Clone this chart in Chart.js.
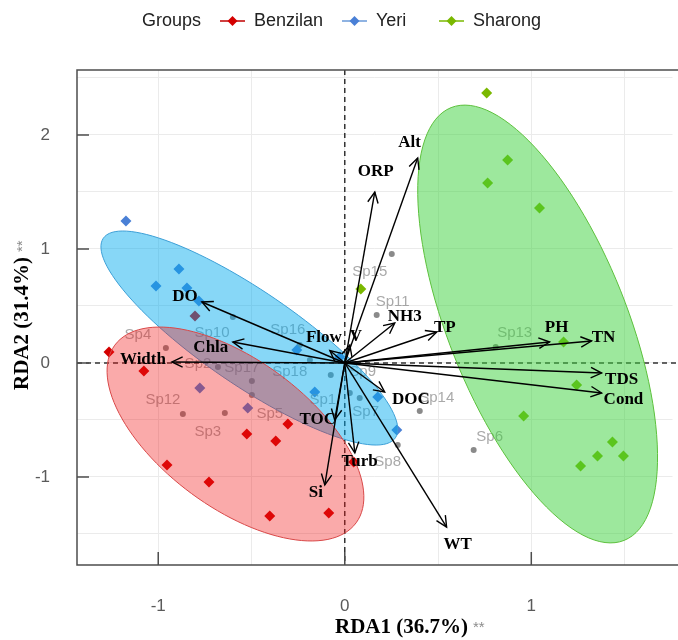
<!DOCTYPE html>
<html><head><meta charset="utf-8">
<script src="https://cdn.jsdelivr.net/npm/chart.js@4/dist/chart.umd.min.js"></script>
<style>html,body{margin:0;padding:0;background:#fff}</style>
</head><body>
<canvas id="c" width="678" height="640"></canvas>
<script>
// ---- data ----
const groupNames = ['Benzilan', 'Yeri', 'Sharong'];
const benzilanX = [-1.264, -1.077, -0.953, -0.728, -0.525, -0.370, -0.402, -0.086, -0.305, 0.048, -0.803];
const benzilanY = [0.096, -0.070, -0.895, -1.044, -0.623, -0.684, -1.342, -1.316, -0.535, -0.868, 0.412];
const yeriX = [-1.173, -1.012, -0.889, -0.846, -0.782, -0.257, -0.161, 0.177, 0.279, -0.777, -0.520, -0.027];
const yeriY = [1.246, 0.675, 0.825, 0.658, 0.544, 0.114, -0.254, -0.298, -0.588, -0.219, -0.395, 0.053];
const sharongX = [0.761, 0.873, 0.766, 1.044, 0.086, 1.173, 1.243, 0.959, 1.435, 1.355, 1.494, 1.264];
const sharongY = [2.368, 1.781, 1.579, 1.360, 0.649, 0.184, -0.193, -0.465, -0.693, -0.816, -0.816, -0.904];

const envNames = ['Alt', 'ORP', 'NH3', 'TP', 'PH', 'TN', 'TDS', 'Cond', 'DOC', 'WT', 'Turb', 'Si', 'TOC', 'Width', 'Chla', 'DO', 'Flow', 'V'];
const envX = [0.391, 0.161, 0.268, 0.493, 1.098, 1.323, 1.377, 1.377, 0.214, 0.546, 0.054, -0.107, -0.054, -0.927, -0.600, -0.766, -0.080, 0.027];
const envY = [1.798, 1.500, 0.351, 0.272, 0.184, 0.193, -0.088, -0.263, -0.254, -1.439, -0.789, -1.070, -0.500, 0.009, 0.184, 0.535, 0.110, 0.158];
const envLabelX = [0.348, 0.166, 0.321, 0.536, 1.136, 1.387, 1.484, 1.494, 0.354, 0.605, 0.080, -0.155, -0.145, -1.082, -0.718, -0.857, -0.112, 0.059];
const envLabelY = [1.930, 1.675, 0.404, 0.307, 0.307, 0.219, -0.149, -0.325, -0.325, -1.596, -0.868, -1.140, -0.500, 0.026, 0.132, 0.579, 0.219, 0.228];

const speciesNames = ['Sp1','Sp2','Sp3','Sp4','Sp5','Sp6','Sp7','Sp8','Sp9','Sp10','Sp11','Sp12','Sp13','Sp14','Sp15','Sp16','Sp17','Sp18'];
const speciesX = [0.027, -0.680, -0.643, -0.959, -0.498, 0.691, 0.080, 0.284, -0.075, -0.600, 0.171, -0.868, 0.809, 0.402, 0.252, -0.241, -0.498, -0.187];
const speciesY = [-0.263, -0.035, -0.439, 0.132, -0.281, -0.763, -0.307, -0.719, -0.105, 0.404, 0.421, -0.447, 0.140, -0.421, 0.956, 0.158, -0.158, 0.026];
const speciesLabelX = [-0.118, -0.787, -0.734, -1.109, -0.402, 0.777, 0.112, 0.230, 0.096, -0.712, 0.257, -0.975, 0.911, 0.493, 0.134, -0.305, -0.552, -0.295];
const speciesLabelY = [-0.325, -0.009, -0.605, 0.246, -0.447, -0.649, -0.430, -0.868, -0.079, 0.263, 0.535, -0.325, 0.263, -0.307, 0.798, 0.289, -0.044, -0.079];

// confidence ellipses: centre and two conjugate semi-axis vectors (data units)
const ellipseCenterX = [-0.586, -0.5115, 1.034];
const ellipseCenterY = [-0.623, 0.219, 0.342];
const ellipseAX = [0.647, 0.783, 0.464];
const ellipseAY = [-0.779, -0.875, -1.898];
const ellipseBX = [-0.235, -0.142, -0.445];
const ellipseBY = [-0.523, -0.340, -0.291];

const xTicks = [-1, 0, 1];
const yTicks = [-1, 0, 1, 2];
const xGrid = [-1, -0.5, 0, 0.5, 1, 1.5];
const yGrid = [-1.5, -1, -0.5, 0, 0.5, 1, 1.5, 2, 2.5];

// ---- styles ----
const pointColors = ['#d40000', '#4a80d6', '#7ab800'];
const legendLineColors = ['#c00000', '#6a9ad8', '#7ab800'];
const fillColors = ['rgba(240,20,20,0.36)', 'rgba(0,170,238,0.47)', 'rgba(60,210,60,0.5)'];
const strokeColors = ['#d84848', '#3c9fd6', '#5cc03c'];

const zip = (xs, ys) => xs.map((x, i) => ({x: x, y: ys[i]}));

const rdaPlugin = {
  id: 'rda',
  afterDatasetsDraw(chart) {
    const ctx = chart.ctx, xs = chart.scales.x, ys = chart.scales.y, ca = chart.chartArea;
    const px = v => xs.getPixelForValue(v), py = v => ys.getPixelForValue(v);
    const R = chart.width;
    ctx.save();
    ctx.beginPath(); ctx.rect(ca.left, ca.top, R - ca.left, ca.bottom - ca.top); ctx.clip();
    // species labels
    ctx.font = '15px "Liberation Sans"';
    ctx.fillStyle = 'rgba(140,140,140,0.75)';
    ctx.textAlign = 'center'; ctx.textBaseline = 'middle';
    speciesNames.forEach((n, i) => ctx.fillText(n, px(speciesLabelX[i]), py(speciesLabelY[i])));
    // zero lines
    ctx.strokeStyle = '#333'; ctx.lineWidth = 1.5; ctx.setLineDash([5, 4]);
    ctx.beginPath(); ctx.moveTo(px(0), ca.top); ctx.lineTo(px(0), ca.bottom); ctx.stroke();
    ctx.beginPath(); ctx.moveTo(ca.left, py(0)); ctx.lineTo(R, py(0)); ctx.stroke();
    ctx.setLineDash([]);
    // ellipses: Yeri, then Benzilan over it, then Sharong
    [1, 0, 2].forEach(g => {
      ctx.beginPath();
      for (let k = 0; k <= 120; k++) {
        const t = k / 120 * Math.PI * 2;
        const dx = ellipseCenterX[g] + ellipseAX[g] * Math.cos(t) + ellipseBX[g] * Math.sin(t);
        const dy = ellipseCenterY[g] + ellipseAY[g] * Math.cos(t) + ellipseBY[g] * Math.sin(t);
        if (k === 0) ctx.moveTo(px(dx), py(dy)); else ctx.lineTo(px(dx), py(dy));
      }
      ctx.closePath();
      ctx.fillStyle = fillColors[g]; ctx.fill();
      ctx.strokeStyle = strokeColors[g]; ctx.lineWidth = 1; ctx.stroke();
    });
    // arrows
    ctx.strokeStyle = '#000'; ctx.lineWidth = 1.4;
    const ox = px(0), oy = py(0);
    envNames.forEach((n, i) => {
      const tx = px(envX[i]), ty = py(envY[i]);
      ctx.beginPath(); ctx.moveTo(ox, oy); ctx.lineTo(tx, ty); ctx.stroke();
      const ang = Math.atan2(ty - oy, tx - ox), L = 12, h = 0.45;
      ctx.beginPath();
      ctx.moveTo(tx - L * Math.cos(ang - h), ty - L * Math.sin(ang - h));
      ctx.lineTo(tx, ty);
      ctx.lineTo(tx - L * Math.cos(ang + h), ty - L * Math.sin(ang + h));
      ctx.stroke();
    });
    ctx.font = 'bold 17px "Liberation Serif"';
    ctx.fillStyle = '#000';
    envNames.forEach((n, i) => ctx.fillText(n, px(envLabelX[i]), py(envLabelY[i])));
    ctx.restore();
    // frame (open on the right, cut by the picture edge) and inward ticks
    ctx.save();
    ctx.strokeStyle = '#4d4d4d'; ctx.lineWidth = 1.5;
    ctx.beginPath();
    ctx.moveTo(R, ca.top); ctx.lineTo(ca.left, ca.top); ctx.lineTo(ca.left, ca.bottom); ctx.lineTo(R, ca.bottom);
    ctx.stroke();
    ctx.beginPath();
    xTicks.forEach(v => { ctx.moveTo(px(v), ca.bottom); ctx.lineTo(px(v), ca.bottom - 13); });
    yTicks.forEach(v => { ctx.moveTo(ca.left, py(v)); ctx.lineTo(ca.left + 12, py(v)); });
    ctx.stroke();
    ctx.restore();
  },
  afterDraw(chart) {
    const ctx = chart.ctx;
    ctx.save();
    // legend
    ctx.textBaseline = 'middle'; ctx.textAlign = 'left';
    ctx.font = '18px "Liberation Sans"'; ctx.fillStyle = '#222';
    ctx.fillText('Groups', 142, 21);
    const itemX = [220, 342, 439];
    groupNames.forEach((n, g) => {
      const x0 = itemX[g];
      ctx.strokeStyle = legendLineColors[g]; ctx.lineWidth = 1.5;
      ctx.beginPath(); ctx.moveTo(x0, 21); ctx.lineTo(x0 + 25, 21); ctx.stroke();
      ctx.fillStyle = pointColors[g];
      ctx.beginPath(); ctx.moveTo(x0 + 12.5, 16); ctx.lineTo(x0 + 17.5, 21); ctx.lineTo(x0 + 12.5, 26); ctx.lineTo(x0 + 7.5, 21); ctx.closePath(); ctx.fill();
      ctx.fillStyle = '#222';
      ctx.fillText(n, x0 + 34, 21);
    });
    // axis titles
    ctx.font = 'bold 21px "Liberation Serif"'; ctx.fillStyle = '#000';
    const t1 = 'RDA1 (36.7%)';
    ctx.fillText(t1, 335, 628);
    const w1 = ctx.measureText(t1).width;
    ctx.font = '15px "Liberation Sans"'; ctx.fillStyle = '#8c8c8c';
    ctx.fillText('**', 335 + w1 + 5, 628);
    ctx.save();
    ctx.translate(23, 390); ctx.rotate(-Math.PI / 2);
    ctx.font = 'bold 21px "Liberation Serif"'; ctx.fillStyle = '#000';
    const t2 = 'RDA2 (31.4%)';
    ctx.fillText(t2, 0, 0);
    const w2 = ctx.measureText(t2).width;
    ctx.font = '15px "Liberation Sans"'; ctx.fillStyle = '#8c8c8c';
    ctx.fillText('**', w2 + 5, 0);
    ctx.restore();
    ctx.restore();
  }
};

const datasets = [
  {label: 'species', data: zip(speciesX, speciesY), pointRadius: 3, pointBackgroundColor: '#8a8a8a', pointBorderWidth: 0, order: 10},
  {label: groupNames[0], data: zip(benzilanX, benzilanY), pointStyle: 'rectRot', pointRadius: 5.5, pointBackgroundColor: pointColors[0], pointBorderWidth: 0, order: 1},
  {label: groupNames[1], data: zip(yeriX, yeriY), pointStyle: 'rectRot', pointRadius: 5.5, pointBackgroundColor: pointColors[1], pointBorderWidth: 0, order: 1},
  {label: groupNames[2], data: zip(sharongX, sharongY), pointStyle: 'rectRot', pointRadius: 5.5, pointBackgroundColor: pointColors[2], pointBorderWidth: 0, order: 1}
];

new Chart(document.getElementById('c'), {
  type: 'scatter',
  data: {datasets: datasets},
  options: {
    responsive: false, animation: false, devicePixelRatio: 1,
    layout: {padding: {top: 70, right: 0, left: 0, bottom: 0}},
    plugins: {legend: {display: false}, tooltip: {enabled: false}},
    scales: {
      x: {
        type: 'linear', min: -1.4355, max: 1.757,
        afterBuildTicks: s => { s.ticks = xGrid.map(v => ({value: v})); },
        afterFit: s => { s.height = 75; },
        grid: {color: '#ebebeb', lineWidth: 1, drawTicks: false},
        border: {display: false},
        ticks: {autoSkip: false, maxRotation: 0, padding: 31, color: '#5a5a5a', font: {family: 'Liberation Sans', size: 17},
                callback: v => xTicks.includes(v) ? String(v) : ''}
      },
      y: {
        type: 'linear', min: -1.772, max: 2.570,
        afterBuildTicks: s => { s.ticks = yGrid.map(v => ({value: v})); },
        afterFit: s => { s.width = 77; },
        grid: {color: '#ebebeb', lineWidth: 1, drawTicks: false},
        border: {display: false},
        ticks: {autoSkip: false, padding: 27, color: '#5a5a5a', font: {family: 'Liberation Sans', size: 17},
                callback: v => yTicks.includes(v) ? String(v) : ''}
      }
    }
  },
  plugins: [rdaPlugin]
});
</script>
</body></html>
